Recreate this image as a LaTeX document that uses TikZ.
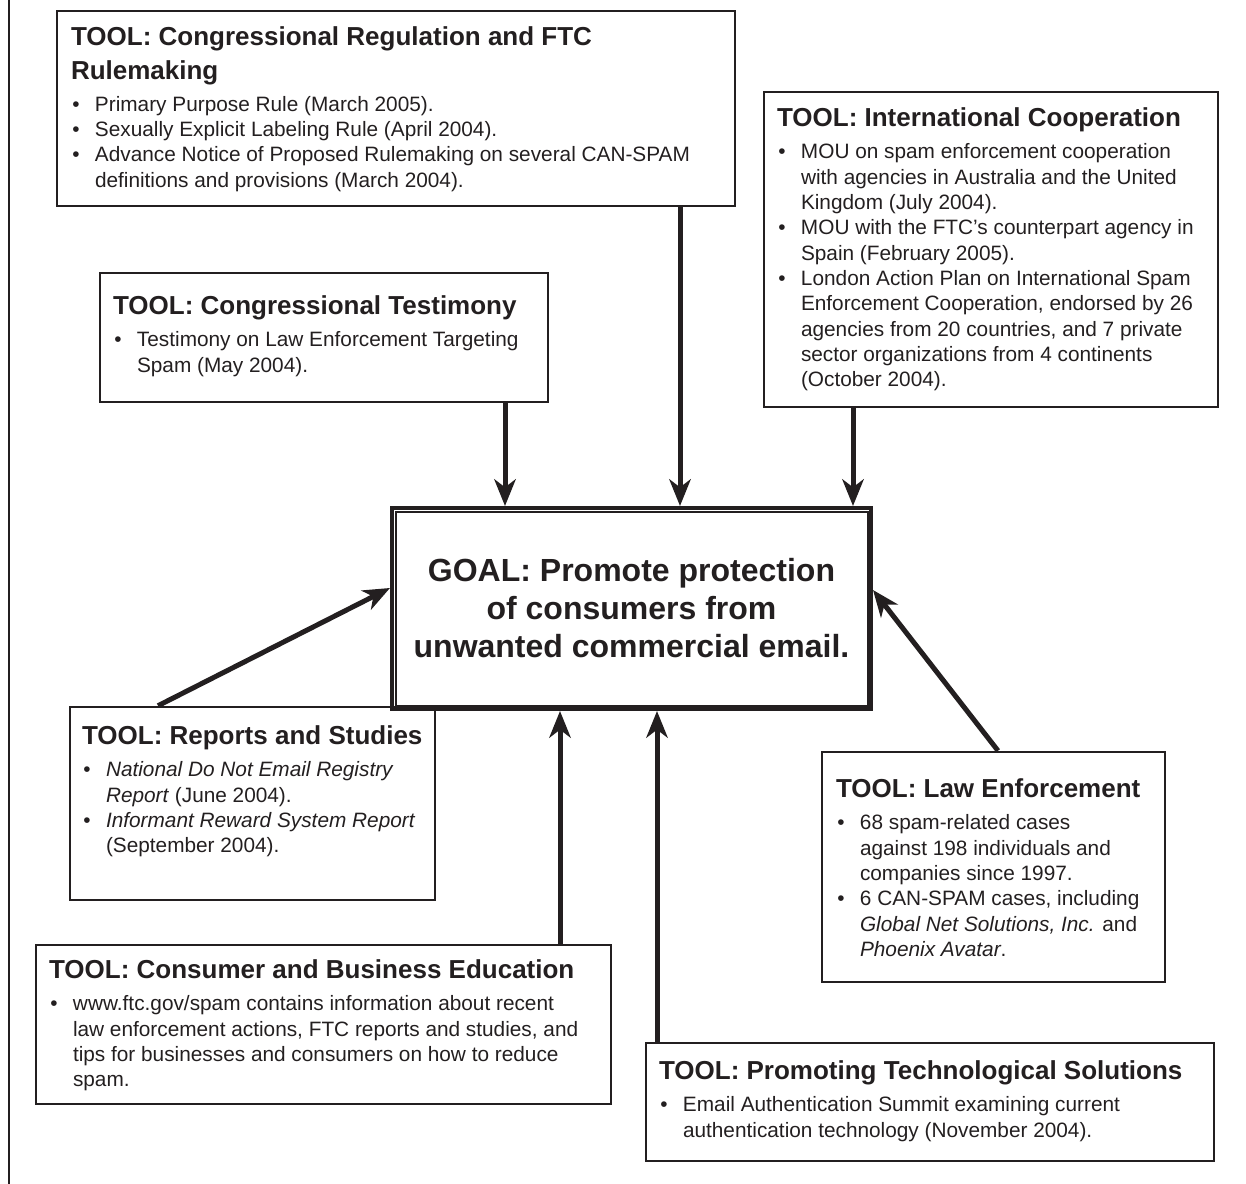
\documentclass[tikz,border=0pt]{standalone}
\usepackage{fontspec}
\setmainfont{Liberation Sans}
\usetikzlibrary{arrows.meta,fit}

\definecolor{ink}{RGB}{35,31,32}
\newcommand{\bul}{\makebox[18pt][l]{\hspace{1pt}\textbullet}}
\newcommand{\ind}{\hspace*{18pt}}
\newcommand{\tooltitle}{\bfseries\fontsize{19.5}{24}\selectfont}

\tikzset{
  toolbox/.style={draw=ink, line width=1.9pt, inner sep=0pt},
  tooltext/.style={anchor=north west, inner sep=0pt, align=left, text=ink,
    font=\fontsize{15.6}{19}\selectfont},
  goalbox/.style={draw=ink, line width=3pt, inner sep=0pt},
  goaltext/.style={inner sep=0pt, align=center, text=ink,
    font=\bfseries\fontsize{24}{28.5}\selectfont},
  toolarrow/.style={draw=ink, line width=3.75pt,
    -{Stealth[length=20pt,width=16pt,inset=6pt]}}
}

\begin{document}
\begin{tikzpicture}[x=0.75pt,y=0.75pt,yscale=-1,xscale=1]
\useasboundingbox (0,0) rectangle (1246,1184);

%Frame line at the left
\draw [ink, line width=2.2pt] (9,0) -- (9,1184);

%Boxes
\node [toolbox, fit={(57,11) (735,206)}] (reg) {};
\node [toolbox, fit={(764,92) (1218,407)}] (intl) {};
\node [toolbox, fit={(100,273) (548,402)}] (test) {};
\node [goalbox, fit={(392,508) (871,709)}] (goal) {};
\draw [ink, line width=1.5pt] ([shift={(5.5,5.5)}]goal.north west) rectangle ([shift={(-5.5,-5.5)}]goal.south east);
\node [toolbox, fit={(70,707) (435,900)}] (rep) {};
\node [toolbox, fit={(822,752) (1165,982)}] (law) {};
\node [toolbox, fit={(36,945) (611,1104)}] (edu) {};
\node [toolbox, fit={(646,1043) (1214,1161)}] (tech) {};

% Text Node
\node [tooltext] (reg-t) at ([shift={(15,17)}]reg.north west)
  {{\tooltitle TOOL: Congressional Regulation and FTC}\\[6pt]
   {\tooltitle Rulemaking}\\[5pt]
   \bul Primary Purpose Rule (March 2005).\\
   \bul Sexually Explicit Labeling Rule (April 2004).\\
   \bul Advance Notice of Proposed Rulemaking on several CAN-SPAM\\
   \ind definitions and provisions (March 2004).};
% Text Node
\node [tooltext] (intl-t) at ([shift={(14,17)}]intl.north west)
  {{\tooltitle TOOL: International Cooperation}\\[5pt]
   \bul MOU on spam enforcement cooperation\\
   \ind with agencies in Australia and the United\\
   \ind Kingdom (July 2004).\\
   \bul MOU with the FTC’s counterpart agency in\\
   \ind Spain (February 2005).\\
   \bul London Action Plan on International Spam\\
   \ind Enforcement Cooperation, endorsed by 26\\
   \ind agencies from 20 countries, and 7 private\\
   \ind sector organizations from 4 continents\\
   \ind (October 2004).};
% Text Node
\node [tooltext] (test-t) at ([shift={(14,24)}]test.north west)
  {{\tooltitle TOOL: Congressional Testimony}\\[5pt]
   \bul Testimony on Law Enforcement Targeting\\
   \ind Spam (May 2004).};
% Text Node
\node [goaltext] (goal-t) at (goal.center)
  {GOAL: Promote protection\\ of consumers from\\ unwanted commercial email.};
% Text Node
\node [tooltext] (rep-t) at ([shift={(13,20)}]rep.north west)
  {{\tooltitle TOOL: Reports and Studies}\\[5pt]
   \bul \textit{National Do Not Email Registry}\\
   \ind \textit{Report} (June 2004).\\
   \bul \textit{Informant Reward System Report}\\
   \ind (September 2004).};
% Text Node
\node [tooltext] (law-t) at ([shift={(15,28)}]law.north west)
  {{\tooltitle TOOL: Law Enforcement}\\[5pt]
   \bul 68 spam-related cases\\
   \ind against 198 individuals and\\
   \ind companies since 1997.\\
   \bul 6 CAN-SPAM cases, including\\
   \ind \textit{Global Net Solutions, Inc.} and\\
   \ind \textit{Phoenix Avatar}.};
% Text Node
\node [tooltext] (edu-t) at ([shift={(14,16)}]edu.north west)
  {{\tooltitle TOOL: Consumer and Business Education}\\[5pt]
   \bul www.ftc.gov/spam contains information about recent\\
   \ind law enforcement actions, FTC reports and studies, and\\
   \ind tips for businesses and consumers on how to reduce\\
   \ind spam.};
% Text Node
\node [tooltext] (tech-t) at ([shift={(14,19)}]tech.north west)
  {{\tooltitle TOOL: Promoting Technological Solutions}\\[5pt]
   \bul Email Authentication Summit examining current\\
   \ind authentication technology (November 2004).};

%Arrow positions
\coordinate (xl) at (505,0);
\coordinate (xm) at (680,0);
\coordinate (xr) at (853,0);
\coordinate (xb1) at (560,0);
\coordinate (xb2) at (657,0);
\coordinate (xrep) at (158,0);
\coordinate (xlaw) at (998,0);
\coordinate (yrep) at (0,588);
\coordinate (ylaw) at (0,590);

%Arrows
\draw [toolarrow] (test.south -| xl) -- (goal.north -| xl);
\draw [toolarrow] (reg.south -| xm) -- (goal.north -| xm);
\draw [toolarrow] (intl.south -| xr) -- (goal.north -| xr);
\draw [toolarrow] (rep.north -| xrep) -- (goal.west |- yrep);
\draw [toolarrow] (law.north -| xlaw) -- (goal.east |- ylaw);
\draw [toolarrow] (edu.north -| xb1) -- (goal.south -| xb1);
\draw [toolarrow] (tech.north -| xb2) -- (goal.south -| xb2);

\end{tikzpicture}
\end{document}
